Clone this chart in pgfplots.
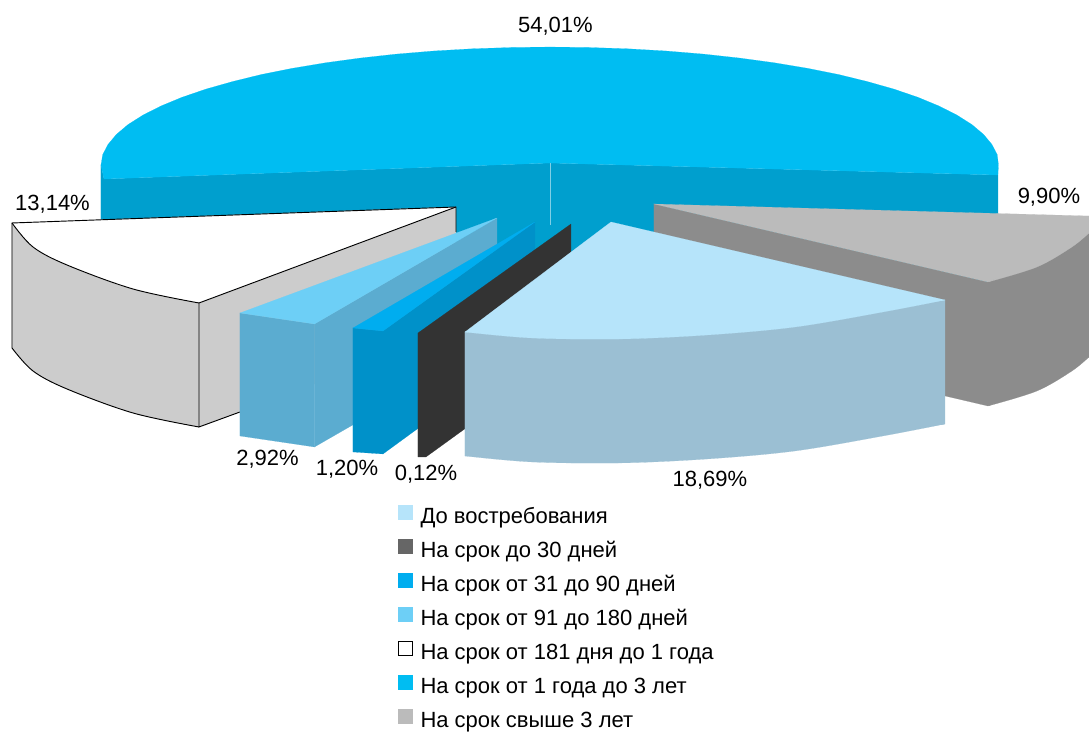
\documentclass[border=0pt]{standalone}
\usepackage{fontspec}
\setmainfont{Liberation Sans}
\usepackage{pgfplots}
\pgfplotsset{compat=1.18}
\definecolor{bigtop}{HTML}{00BDF2}
\definecolor{bigside}{HTML}{009FCE}
\definecolor{graytop}{HTML}{BBBBBB}
\definecolor{grayside}{HTML}{8C8C8C}
\definecolor{pietop}{HTML}{B6E4FA}
\definecolor{pieside}{HTML}{9BBFD3}
\definecolor{darkside}{HTML}{333333}
\definecolor{darkkey}{HTML}{666666}
\definecolor{midtop}{HTML}{00ADEF}
\definecolor{midside}{HTML}{0091C9}
\definecolor{lighttop}{HTML}{6DCFF6}
\definecolor{lightside}{HTML}{5BACD0}
\definecolor{whiteside}{HTML}{CCCCCC}
\pgfplotsset{
  face/.style={draw=#1, line width=0.1pt, fill=#1, forget plot},
  arc/.style={face=#1, smooth, tension=0.55},
  edge/.style={draw=black, line width=0.7pt, forget plot},
}
\begin{document}
\begin{tikzpicture}
\begin{axis}[
    scale only axis,
    width=816.75pt, height=546.75pt,
    xmin=0, xmax=1089,
    ymin=0, ymax=729,
    y dir=reverse,
    hide axis,
    clip=false,
    legend style={
      at={(axis cs:398,505)}, anchor=north west,
      draw=none, fill=none, inner sep=0pt, outer sep=0pt,
      font=\fontsize{16.5}{16.5}\selectfont,
      row sep=8pt, column sep=6pt,
      nodes={text height=12pt, text depth=3.5pt, inner sep=0pt, outer sep=0pt},
      cells={anchor=west},
    },
    legend image code/.code={
      \draw[#1] (0pt,-1pt) rectangle (10.5pt,9.5pt);
    },
]
% keeps the page at the full frame
\addplot[draw=none, forget plot] coordinates {(0,0)(1089,0)(1089,729)(0,729)};
% 54,01% slice
\addplot[face=bigside] coordinates {
  (101,165)(104,179)(550,163)(998,175)(998,299)(550,287)(104,303)(101,290)
} -- cycle;
\addplot[face=bigtop] coordinates {
  (101,165)(102.7,154.7)(108,144.5)(116.3,134.5)(128,124.6)(143,115.1)(161,106)
  (182,97.3)(206,89.1)(232.5,81.6)(261,74.6)(292.5,68.3)(325.5,62.8)(360,58.1)
  (396.4,54.1)(433.8,51)(472,48.8)(511,47.5)(550,47)(589,47.5)(628,48.8)(666.2,51)
  (703.6,54.1)(740,58.1)(774.5,62.8)(807.5,68.3)(839,74.6)(867.5,81.6)(894,89.1)
  (918,97.3)(939,106)(957,115.1)(972,124.6)(983.7,134.5)(992,144.5)(997.3,154.7)
  (998.5,165)(998,175)(550,163)(104,179)
} -- cycle;
\addplot[draw=white!50!bigside, line width=0.4pt, forget plot] coordinates {(550,163)(550,225)};
% 9,90% slice
\addplot[face=grayside] coordinates {(654,204)(988,282)(1089,233)(1089,357)(1040,384)(988,406)(654,328)} -- cycle;
\addplot[arc=grayside] coordinates {(988,406)(1037,391)(1072,371)(1089,357)} -- cycle;
\addplot[face=graytop] coordinates {(654,204)(1089,216)(1089,233)(1040,260)(988,282)} -- cycle;
\addplot[arc=graytop] coordinates {(988,282)(1037,267)(1072,247)(1089,233)} -- cycle;
% 13,14% slice
\addplot[face=whiteside] coordinates {(12,223)(199,303)(456,207)(456,331)(199,427)(100,395)(12,348)} -- cycle;
\addplot[arc=whiteside] coordinates {(12,348)(33,371)(67,389)(133,413)(199,427)} -- cycle;
\addplot[face=white] coordinates {(12,223)(456,207)(199,303)(100,272)(50,248)} -- cycle;
\addplot[arc=white] coordinates {(12,223)(33,247)(67,265)(133,289)(199,303)} -- cycle;
\addplot[edge, smooth, tension=0.55] coordinates {(12,223)(33,247)(67,265)(133,289)(199,303)};
\addplot[edge, smooth, tension=0.55] coordinates {(12,348)(33,371)(67,389)(133,413)(199,427)};
\addplot[edge] coordinates {(12,348)(12,223)(456,207)(456,232)};
\addplot[edge] coordinates {(199,303)(456,207)};
\addplot[edge] coordinates {(199,303)(199,427)(240,412)};
% 2,92% slab
\addplot[face=lightside] coordinates {(314.5,324)(497,218)(497,342)(314.5,447)} -- cycle;
\addplot[face=lightside] coordinates {(240,313)(314.5,324)(314.5,447)(240,436)} -- cycle;
\addplot[face=lighttop] coordinates {(240,313)(497,218)(314.5,324)} -- cycle;
% 1,20% slab
\addplot[face=midside] coordinates {(383,331)(535,222)(535,343)(383,454)} -- cycle;
\addplot[face=midside] coordinates {(353,328)(383,331)(383,454)(353,452)} -- cycle;
\addplot[face=midtop] coordinates {(353,328)(535,222)(383,331)} -- cycle;
% 0,12% slab
\addplot[face=darkside] coordinates {(418,333)(571,224)(571,352)(426,457)(418,457)} -- cycle;
% 18,69% slice
\addplot[face=pieside] coordinates {(465,332)(945,300)(945,424)(800,445)(620,455)(465,456)} -- cycle;
\addplot[arc=pieside] coordinates {
  (465,456)(532,462)(620,463)(707.5,459)(795,451)(883,436)(945,424)
} -- cycle;
\addplot[face=pietop] coordinates {(611,222)(945,300)(800,322)(620,335)(465,332)} -- cycle;
\addplot[arc=pietop] coordinates {
  (465,332)(532,338)(620,339)(707.5,335)(795,327)(883,312)(945,300)
} -- cycle;

\addlegendimage{draw=pietop, fill=pietop}
\addlegendentry{До востребования}
\addlegendimage{draw=darkkey, fill=darkkey}
\addlegendentry{На срок до 30 дней}
\addlegendimage{draw=midtop, fill=midtop}
\addlegendentry{На срок от 31 до 90 дней}
\addlegendimage{draw=lighttop, fill=lighttop}
\addlegendentry{На срок от 91 до 180 дней}
\addlegendimage{draw=black, fill=white}
\addlegendentry{На срок от 181 дня до 1 года}
\addlegendimage{draw=bigtop, fill=bigtop}
\addlegendentry{На срок от 1 года до 3 лет}
\addlegendimage{draw=graytop, fill=graytop}
\addlegendentry{На срок свыше 3 лет}

\begin{scope}[every node/.style={font=\fontsize{16.5}{16.5}\selectfont, inner sep=0pt}]
\node at (axis cs:555.5,26) {54,01\%};
\node at (axis cs:1049,197) {9,90\%};
\node at (axis cs:52.5,204) {13,14\%};
\node at (axis cs:267.5,459) {2,92\%};
\node at (axis cs:347,469) {1,20\%};
\node at (axis cs:426,474) {0,12\%};
\node at (axis cs:710,480) {18,69\%};
\end{scope}
\end{axis}
\end{tikzpicture}
\end{document}
